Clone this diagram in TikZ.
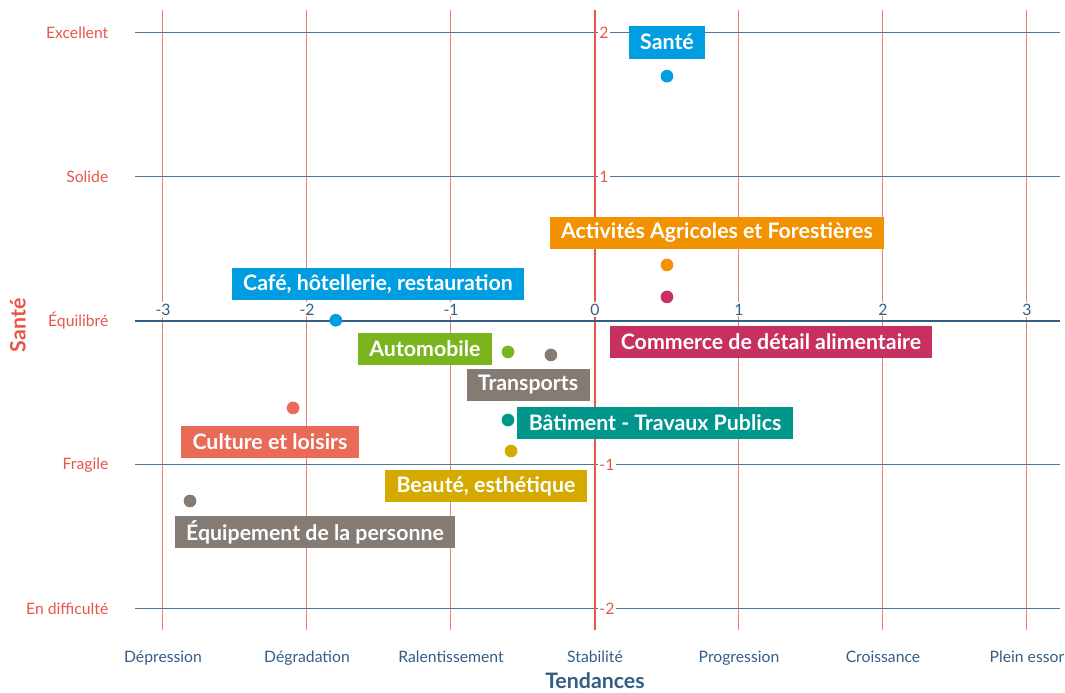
\documentclass[tikz,border=0pt]{standalone}
\usepackage{fontspec}
\setmainfont{Lato}
\usetikzlibrary{positioning}
\definecolor{axred}{RGB}{232,86,74}
\definecolor{axblue}{RGB}{52,94,134}
\definecolor{cbleu}{RGB}{0,158,224}
\definecolor{corange}{RGB}{243,146,0}
\definecolor{cmagenta}{RGB}{200,48,96}
\definecolor{cvert}{RGB}{122,181,29}
\definecolor{cgris}{RGB}{133,123,117}
\definecolor{cteal}{RGB}{0,150,140}
\definecolor{cor}{RGB}{212,170,0}
\definecolor{csaumon}{RGB}{234,106,88}
\tikzset{every node/.style={align=center}, >= latex, font=\fontsize{11.8}{13}\selectfont,
  dot/.style={circle, inner sep=0pt, minimum size=9.5pt},
  tag/.style={text=white, inner xsep=8.5pt, minimum height=24.5pt, font=\bfseries\fontsize{16}{18}\selectfont},
  level/.style={anchor=east, text=axred},
  trend/.style={text=axblue, text height=1.6ex, text depth=.3ex},
  vline/.style={axred!75, line width=0.75pt},
  hline/.style={axblue!85, line width=0.75pt}}

\begin{document}
\begin{tikzpicture}[x=108pt, y=108pt]
            \useasboundingbox (-4.132,-2.583) rectangle (3.264,2.229);
            % grid
            \draw [vline] (-3,2.16) -- (-3,-2.146);
            \draw [vline] (-2,2.16) -- (-2,-2.146);
            \draw [vline] (-1,2.16) -- (-1,-2.146);
            \draw [vline] (1,2.16) -- (1,-2.146);
            \draw [vline] (2,2.16) -- (2,-2.146);
            \draw [vline] (3,2.16) -- (3,-2.146);
            \draw [hline] (-3.194,2) -- (3.229,2);
            \draw [hline] (-3.194,1) -- (3.229,1);
            \draw [hline] (-3.194,-1) -- (3.229,-1);
            \draw [hline] (-3.194,-2) -- (3.229,-2);
            \draw [axred, line width=1.5pt] (0,2.16) -- (0,-2.146);

            \node [fill=white, inner sep=1pt, text=axblue] (n0) at (-3,0.08) {-3};
            \node [fill=white, inner sep=1pt, text=axblue] (n1) at (-2,0.08) {-2};
            \node [fill=white, inner sep=1pt, text=axblue] (n2) at (-1,0.08) {-1};
            \node [fill=white, inner xsep=12pt, inner ysep=1pt, text=axblue] (n3) at (0,0.08) {0};
            \node [fill=white, inner sep=1pt, text=axblue] (n4) at (1,0.08) {1};
            \node [fill=white, inner sep=1pt, text=axblue] (n5) at (2,0.08) {2};
            \node [fill=white, inner sep=1pt, text=axblue] (n6) at (3,0.08) {3};
            \draw [axblue, line width=1.9pt] (-3.194,0) -- (3.229,0);
            \node [fill=white, inner sep=1pt, anchor=west, text=axred] (m0) at (0.02,2) {2};
            \node [fill=white, inner sep=1pt, anchor=west, text=axred] (m1) at (0.02,1) {1};
            \node [fill=white, inner sep=1pt, anchor=west, text=axred] (m2) at (0.02,-1) {-1};
            \node [fill=white, inner sep=1pt, anchor=west, text=axred] (m3) at (0.02,-2) {-2};

            % axes
            \node [level] (e0) at (-3.347,2) {Excellent};
            \node [level] (e1) at (-3.347,1) {Solide};
            \node [level] (e2) at (-3.347,0) {Équilibré};
            \node [level] (e3) at (-3.347,-1) {Fragile};
            \node [level] (e4) at (-3.347,-2) {En difficulté};
            \node [rotate=90, text=axred, font=\bfseries\fontsize{16}{18}\selectfont] (ysante) at (-4.007,-0.03) {Santé};
            \node [trend] (t0) at (-3,-2.34) {Dépression};
            \node [trend] (t1) at (-2,-2.34) {Dégradation};
            \node [trend] (t2) at (-1,-2.34) {Ralentissement};
            \node [trend] (t3) at (0,-2.34) {Stabilité};
            \node [trend] (t4) at (1,-2.34) {Progression};
            \node [trend] (t5) at (2,-2.34) {Croissance};
            \node [trend] (t6) at (3,-2.34) {Plein essor};
            \node [inner sep=0pt, text=axblue, font=\bfseries\fontsize{16}{18}\selectfont] (xtend) at (0,-2.50) {Tendances};

            % secteurs
            \node [dot, fill=cbleu] (p0) at (0.5,1.70) {};
            \node [tag, fill=cbleu] (l0) at (0.5,1.936) {Santé};
            \node [dot, fill=corange] (p1) at (0.5,0.389) {};
            \node [tag, fill=corange] (l1) at (0.847,0.611) {Activités Agricoles et Forestières};
            \node [dot, fill=cmagenta] (p2) at (0.5,0.167) {};
            \node [tag, fill=cmagenta] (l2) at (1.222,-0.146) {Commerce de détail alimentaire};
            \node [dot, fill=cbleu] (p3) at (-1.8,0.005) {};
            \node [tag, fill=cbleu] (l3) at (-1.507,0.257) {Café, hôtellerie, restauration};
            \node [dot, fill=cvert] (p4) at (-0.604,-0.215) {};
            \node [tag, fill=cvert] (l4) at (-1.181,-0.194) {Automobile};
            \node [dot, fill=cgris] (p5) at (-0.306,-0.236) {};
            \node [tag, fill=cgris] (l5) at (-0.465,-0.444) {Transports};
            \node [dot, fill=cteal] (p6) at (-0.604,-0.688) {};
            \node [tag, fill=cteal] (l6) at (0.417,-0.708) {Bâtiment - Travaux Publics};
            \node [dot, fill=cor] (p7) at (-0.583,-0.903) {};
            \node [tag, fill=cor] (l7) at (-0.757,-1.146) {Beauté, esthétique};
            \node [dot, fill=csaumon] (p8) at (-2.097,-0.604) {};
            \node [tag, fill=csaumon] (l8) at (-2.257,-0.840) {Culture et loisirs};
            \node [dot, fill=cgris] (p9) at (-2.8125,-1.25) {};
            \node [tag, fill=cgris] (l9) at (-1.944,-1.465) {Équipement de la personne};

        \end{tikzpicture}
\end{document}
